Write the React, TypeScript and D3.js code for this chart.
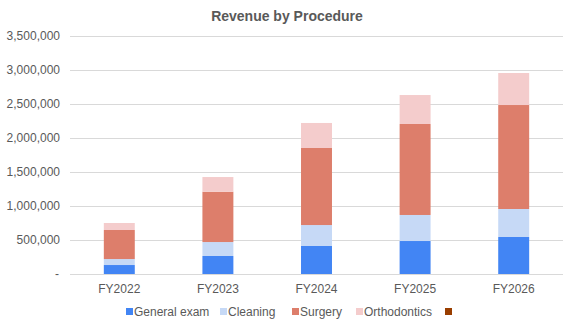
import React from "react";
import * as d3 from "d3";

const categories = ["FY2022", "FY2023", "FY2024", "FY2025", "FY2026"];
const seriesNames = ["General exam", "Cleaning", "Surgery", "Orthodontics"];
const generalExam = [132000, 265000, 412000, 485000, 544000];
const cleaning = [88000, 205000, 308000, 383000, 412000];
const surgery = [427000, 740000, 1133000, 1338000, 1529000];
const orthodontics = [103000, 216000, 368000, 426000, 471000];
const yTicks = [0, 500000, 1000000, 1500000, 2000000, 2500000, 3000000, 3500000];
const colors = ["#4285f4", "#c6d9f6", "#dd7e6b", "#f4cccc"];
const extraLegendColor = "#993e00";

const W = 574;
const H = 327;
const margin = { left: 70, right: 11, top: 36, bottom: 53 };

export default function App() {
  const seriesValues = [generalExam, cleaning, surgery, orthodontics];
  const rows = categories.map((c, i) => {
    const r: any = { cat: c };
    seriesNames.forEach((s, j) => (r[s] = seriesValues[j][i]));
    return r;
  });
  const stacked = d3.stack<any>().keys(seriesNames)(rows);
  const x = d3
    .scaleBand()
    .domain(categories)
    .range([margin.left, W - margin.right])
    .paddingInner(0.686)
    .paddingOuter(0.343);
  const y = d3
    .scaleLinear()
    .domain([0, 3500000])
    .range([H - margin.bottom, margin.top]);
  const fmt = d3.format(",");
  const font = "Arial, 'Liberation Sans', sans-serif";
  const legendItems = [
    { label: "General exam", color: colors[0], x: 126 },
    { label: "Cleaning", color: colors[1], x: 220 },
    { label: "Surgery", color: colors[2], x: 292 },
    { label: "Orthodontics", color: colors[3], x: 356 },
    { label: "", color: extraLegendColor, x: 445 },
  ];
  return (
    <svg
      width={W}
      height={H}
      style={{ position: "absolute", left: 0, top: 0, background: "#fff" }}
      fontFamily={font}
    >
      <rect width={W} height={H} fill="#fff" />
      <text x={287} y={21} textAnchor="middle" fontSize={14} fontWeight="bold" fill="#595959">
        Revenue by Procedure
      </text>
      {yTicks.map((t) => (
        <g key={t}>
          <line
            x1={margin.left}
            x2={W - margin.right}
            y1={Math.round(y(t)) + 0.5}
            y2={Math.round(y(t)) + 0.5}
            stroke="#d9d9d9"
            strokeWidth={1}
          />
          <text
            x={t === 0 ? 59 : 60}
            y={y(t)}
            dy="0.35em"
            textAnchor="end"
            fontSize={12}
            fill="#595959"
          >
            {t === 0 ? "-" : fmt(t)}
          </text>
        </g>
      ))}
      {stacked.map((s, j) => (
        <g key={s.key} fill={colors[j]}>
          {s.map((d, i) => (
            <rect
              key={i}
              x={x(categories[i])!}
              width={x.bandwidth()}
              y={y(d[1])}
              height={y(d[0]) - y(d[1])}
            />
          ))}
        </g>
      ))}
      {categories.map((c) => (
        <text
          key={c}
          x={x(c)! + x.bandwidth() / 2}
          y={293}
          textAnchor="middle"
          fontSize={12}
          fill="#595959"
        >
          {c}
        </text>
      ))}
      {legendItems.map((l, i) => (
        <g key={i}>
          <rect x={l.x} y={308} width={7} height={7} fill={l.color} />
          <text x={l.x + 8} y={315.5} fontSize={12} fill="#595959">
            {l.label}
          </text>
        </g>
      ))}
    </svg>
  );
}
